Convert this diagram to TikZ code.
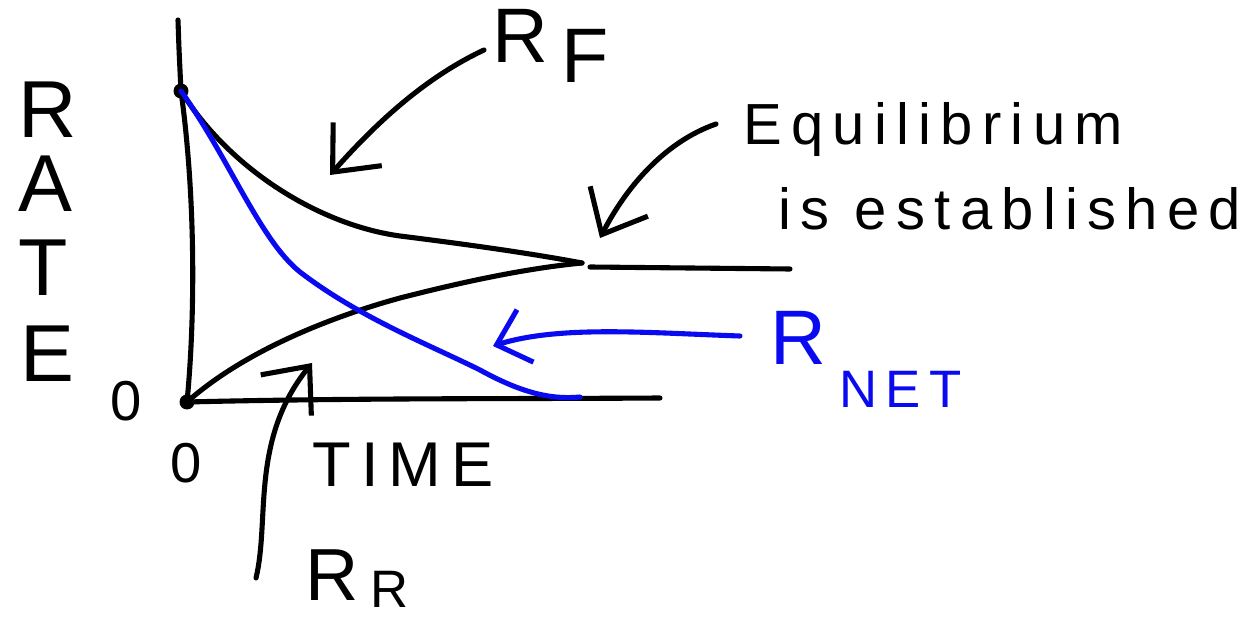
\documentclass[tikz,border=0pt]{standalone}
\usepackage{fontspec}
\setmainfont{Liberation Sans}
\newfontfamily\hand[LetterSpace=16]{Liberation Sans}
\usetikzlibrary{arrows.meta}
\definecolor{penblue}{RGB}{10,10,240}
\tikzset{
  pen/.style={line width=2.9pt, line cap=round, line join=round},
  bluepen/.style={pen, penblue},
  pointer/.style={pen, -{Straight Barb[length=0.75cm,width=1.3cm,line width=2.9pt]}},
  bluepointer/.style={bluepen, -{Straight Barb[length=0.6cm,width=1.1cm,line width=2.9pt]}},
  lbl/.style={inner sep=0pt, anchor=base west},
  dot/.style={circle, fill=black, inner sep=0pt, minimum size=0.3cm}
}
\begin{document}
\begin{tikzpicture}[x=0.02cm,y=-0.02cm]
\useasboundingbox (0,0) rectangle (1252,618);
% axes
\coordinate (ytop) at (178,20);
\node[dot] (top) at (181,91) {};
\node[dot] (orig) at (187,402) {};
\coordinate (xend) at (660,398);
\draw[pen] (ytop) .. controls (179,50) .. (top.center);
\draw[pen] (top.center) .. controls (196,200) and (195,320) .. (orig.center);
\draw[pen] (orig.center) .. controls (350,398) and (500,399) .. (xend);
% forward rate curve
\coordinate (eq) at (582,263);
\coordinate (fend) at (790,269);
\draw[pen] (top.center) .. controls (230,170) and (320,225) .. (400,236)
  .. controls (480,246) and (540,255) .. (eq);
\draw[pen] (590,267) -- (fend);
% reverse rate curve
\draw[pen] (orig.center) .. controls (240,355) and (320,320) .. (400,298)
  .. controls (470,280) and (530,268) .. (eq);
% net rate curve
\coordinate (nend) at (580,397);
\draw[bluepen] (top.center) .. controls (230,160) and (260,240) .. (300,272)
  .. controls (360,318) and (430,345) .. (480,370)
  .. controls (520,392) and (550,400) .. (nend);
% labels
\node[lbl, font=\hand\fontsize{46}{50}\selectfont] (R) at (18,138) {R};
\node[lbl, font=\hand\fontsize{46}{50}\selectfont] (A) at (18,212) {A};
\node[lbl, font=\hand\fontsize{46}{50}\selectfont] (T) at (18,296) {T};
\node[lbl, font=\hand\fontsize{46}{50}\selectfont] (E) at (20,382) {E};
\node[lbl, font=\hand\fontsize{32}{36}\selectfont] (zy) at (110,420) {0};
\node[lbl, font=\hand\fontsize{32}{36}\selectfont] (zx) at (170,482) {0};
\node[lbl, font=\hand\fontsize{36}{40}\selectfont] (time) at (312,486) {TIME};
\node[lbl, font=\hand\fontsize{44}{48}\selectfont] (rf) at (492,63) {R\,\raisebox{-0.25em}{F}};
\node[lbl, font=\hand\fontsize{33}{36}\selectfont] (eq1) at (743,145) {Equilibrium};
\node[lbl, font=\hand\fontsize{33}{36}\selectfont] (eq2) at (778,230) {is established};
\node[lbl, font=\hand\fontsize{44}{48}\selectfont, text=penblue] (rnet) at (770,365) {R\,\raisebox{-0.55em}{\fontsize{30}{34}\selectfont NET}};
\node[lbl, font=\hand\fontsize{42}{46}\selectfont] (rr) at (305,600) {R\,\raisebox{-0.1em}{\fontsize{30}{34}\selectfont R}};
% pointers
\coordinate (rftip) at (330,175);
\coordinate (rfstart) at (484,50);
\draw[pointer] (rfstart) .. controls (420,80) and (370,130) .. (rftip);
\coordinate (eqtip) at (600,238);
\coordinate (eqstart) at (716,124);
\draw[pointer] (eqstart) .. controls (670,140) and (630,180) .. (eqtip);
\coordinate (ntip) at (493,346);
\coordinate (nstart) at (740,336);
\draw[bluepointer] (nstart) .. controls (650,333) and (560,325) .. (ntip);
\coordinate (rrtip) at (312,363);
\coordinate (rrstart) at (256,578);
\draw[pointer] (rrstart) .. controls (270,520) and (250,440) .. (rrtip);
\end{tikzpicture}
\end{document}
